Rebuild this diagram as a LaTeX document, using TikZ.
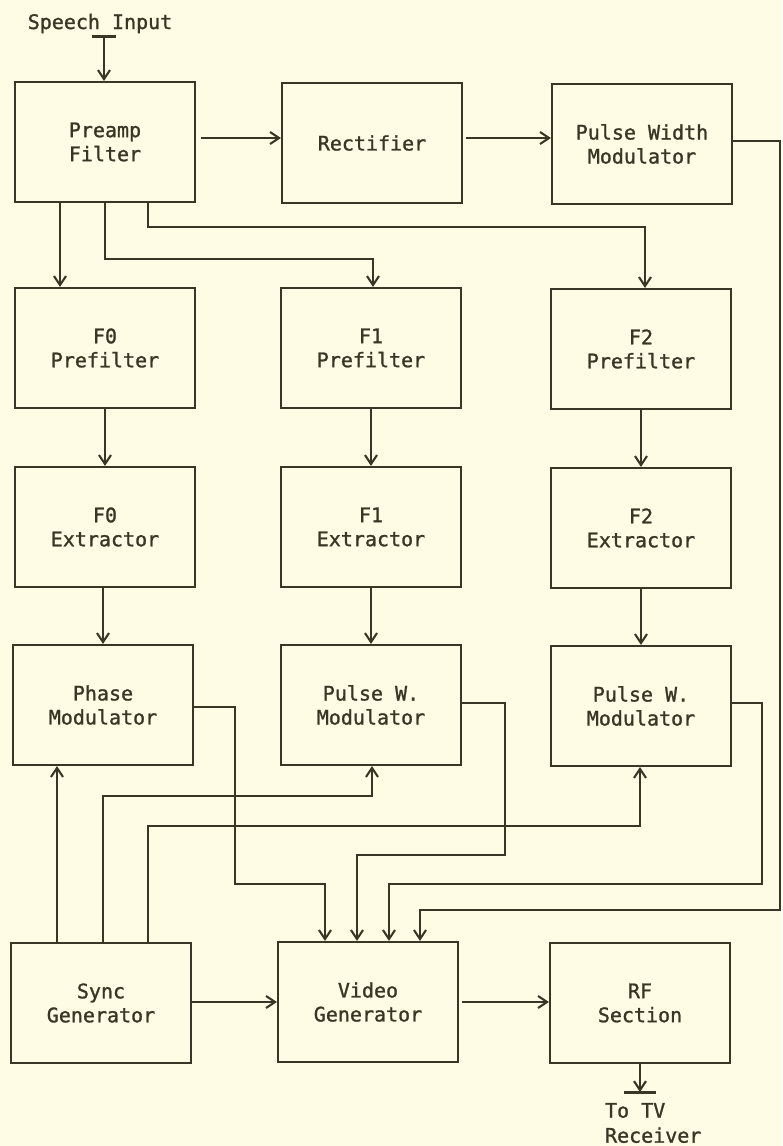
\documentclass[tikz,border=0pt]{standalone}
\usepackage{fontspec}
\usetikzlibrary{arrows.meta}
\newfontfamily\typefont[FakeBold=1.2]{DejaVu Sans Mono}
\definecolor{paper}{RGB}{254,252,228}
\definecolor{ink}{RGB}{58,54,38}
\tikzset{blk/.style={draw,minimum width=180pt,minimum height=120pt,inner sep=0pt,align=center,font=\typefont\fontsize{20}{24}\selectfont},
lbl/.style={inner sep=0pt,font=\typefont\fontsize{20}{25}\selectfont},
bar/.style={line width=3pt}}
\begin{document}
\begin{tikzpicture}[x=1pt,y=-1pt,color=ink,line width=2.1pt,
>={Straight Barb[length=9pt,width=12pt]}]
\fill[paper] (0,0) rectangle (782,1146);
\useasboundingbox (0,0) rectangle (782,1146);

% top row
\node[blk] (pre) at (105,142) {Preamp\\Filter};
\node[blk] (rec) at (372,143) {Rectifier};
\node[blk] (pwm) at (642,144) {Pulse Width\\Modulator};
% prefilters
\node[blk] (p0) at (105,348) {F0\\Prefilter};
\node[blk] (p1) at (371,348) {F1\\Prefilter};
\node[blk] (p2) at (641,349) {F2\\Prefilter};
% extractors
\node[blk] (e0) at (105,527) {F0\\Extractor};
\node[blk] (e1) at (371,527) {F1\\Extractor};
\node[blk] (e2) at (641,528) {F2\\Extractor};
% modulators
\node[blk] (m0) at (103,705) {Phase\\Modulator};
\node[blk] (m1) at (371,705) {Pulse W.\\Modulator};
\node[blk] (m2) at (641,706) {Pulse W.\\Modulator};
% bottom row
\node[blk] (sync) at (101,1003) {Sync\\Generator};
\node[blk] (vid) at (368,1002) {Video\\Generator};
\node[blk] (rf) at (640,1003) {RF\\Section};

% input and output
\node[lbl,anchor=base] (sp) at (100,29) {Speech Input};
\coordinate (sin) at (104,36);
\draw[bar] (sin) +(-12,0) -- +(12,0);
\draw[->] (sin) -- (sin |- pre.north);
\coordinate (tv) at (640,1092);
\draw[->] (rf.south) -- (tv);
\draw[bar] (tv) +(-16,0) -- +(16,0);
\node[lbl,anchor=north west,align=left] (rx) at (604,1102) {To TV\\Receiver};

\draw[->,shorten <=5pt] ([yshift=4pt]pre.east) -- ([yshift=5pt]rec.west);
\draw[->,shorten <=3pt] ([yshift=5pt]rec.east) -- ([yshift=6pt]pwm.west);
\draw[->] ([yshift=3pt]pwm.east) -| (780,910) -| ([xshift=52pt]vid.north);

% preamp to prefilters
\draw[->] ([xshift=-45pt]pre.south) -- ([xshift=-45pt]p0.north);
\draw[->] (pre.south) |- (200,259) -| ([xshift=2pt]p1.north);
\draw[->] ([xshift=43pt]pre.south) |- (400,227) -| ([xshift=4pt]p2.north);

\draw[->] (p0) -- (e0);
\draw[->] (p1) -- (e1);
\draw[->] (p2) -- (e2);
\draw[->] ([xshift=-2pt]e0.south) -- (m0.north);
\draw[->] (e1) -- (m1);
\draw[->] (e2) -- (m2);

% modulators to video generator
\draw[->] ([yshift=-2pt]m0.east) -| (235,884) -| ([xshift=-43pt]vid.north);
\draw[->] ([yshift=2pt]m1.east) -| (505,855) -| ([xshift=-11pt]vid.north);
\draw[->] ([yshift=3pt]m2.east) -| (762,884) -| ([xshift=21pt]vid.north);

% sync lines
\draw[->] ([xshift=-44pt]sync.north) -- ([xshift=-46pt]m0.south);
\draw[->] ([xshift=2pt]sync.north) |- (200,796) -| ([xshift=1pt]m1.south);
\draw[->] ([xshift=47pt]sync.north) |- (400,826) -| ([xshift=-1pt]m2.south);

\draw[->] ([yshift=1pt]sync.east) -- (vid.west);
\draw[->,shorten <=3pt] (vid.east) -- ([yshift=1pt]rf.west);
\end{tikzpicture}
\end{document}
